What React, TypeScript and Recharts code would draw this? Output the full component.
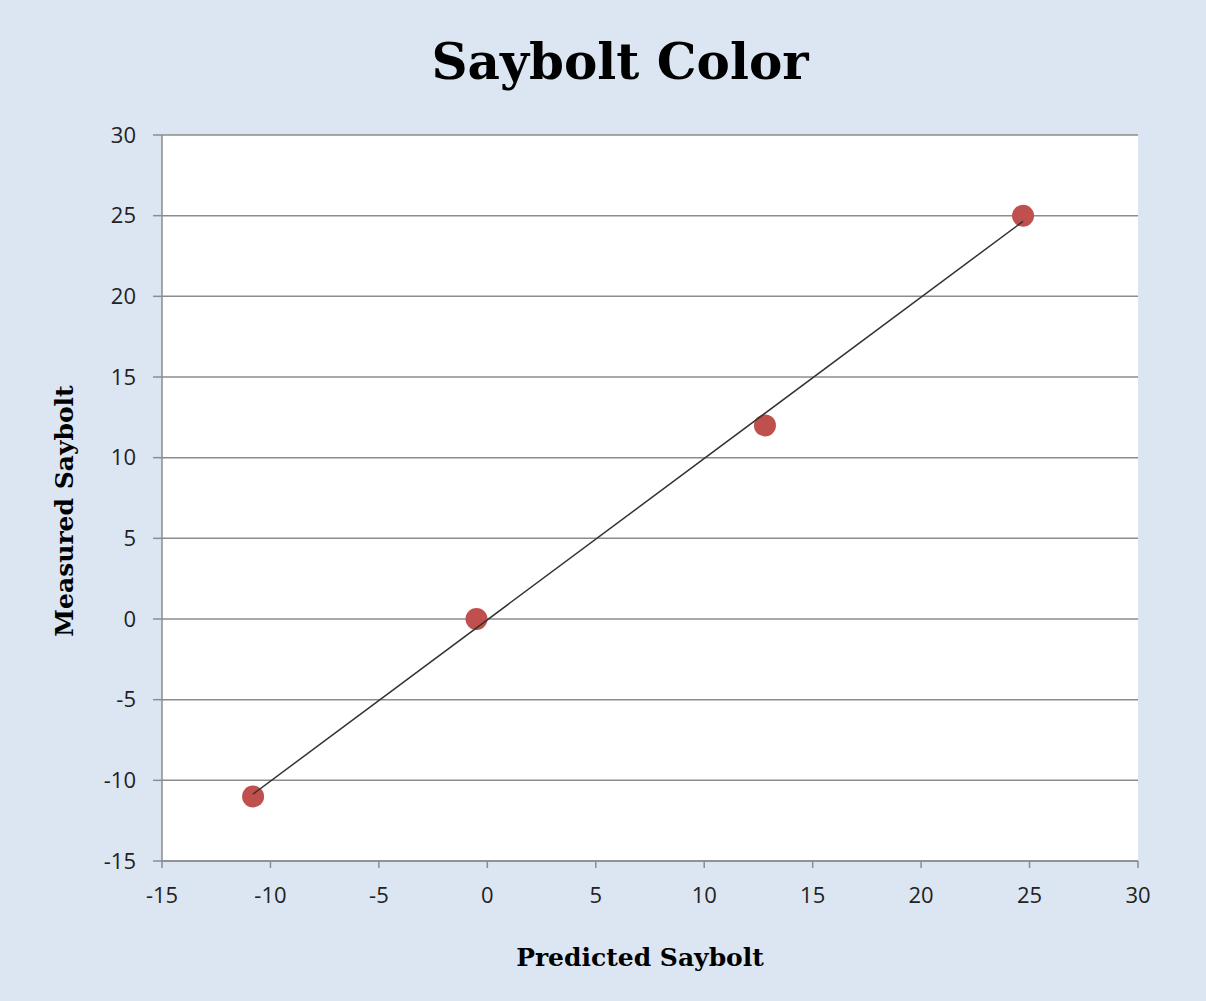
import React from 'react';
import {
  ScatterChart,
  Scatter,
  XAxis,
  YAxis,
  CartesianGrid,
  Label,
} from 'recharts';

// measured vs predicted points
const predicted = [-10.8, -0.5, 12.8, 24.7];
const measured = [-11, 0, 12, 25];

// linear trendline end points
const trendX = [-10.8, 24.7];
const trendY = [-10.85, 24.65];

const ticks = [-15, -10, -5, 0, 5, 10, 15, 20, 25, 30];

const BG = '#dce6f2';
const GRID = '#8c8c8c';
const SERIF = '"DejaVu Serif", serif';
const TICK_FONT = { fill: '#222', fontSize: 22, fontFamily: '"Open Sans", sans-serif' };
const AXIS_TITLE = { fontFamily: SERIF, fontWeight: 700, fontSize: 25, fill: '#000' };

const points = predicted.map((x, i) => ({ x, y: measured[i] }));
const trend = trendX.map((x, i) => ({ x, y: trendY[i] }));

export default function App() {
  return (
    <div style={{ position: 'absolute', left: 0, top: 0, width: 1206, height: 1001, background: BG }}>
      <div
        style={{
          position: 'absolute',
          left: 0,
          right: 0,
          top: 32,
          textAlign: 'center',
          fontFamily: SERIF,
          fontWeight: 700,
          fontSize: 50,
          color: '#000',
          paddingLeft: 34,
        }}
      >
        Saybolt Color
      </div>
      <ScatterChart
        width={1206}
        height={1001}
        margin={{ top: 135, right: 68, bottom: 100, left: 102 }}
        style={{ position: 'absolute', left: 0, top: 0 }}
      >
        <CartesianGrid horizontal vertical={false} fill="#fff" stroke={GRID} strokeWidth={1.5} />
        <XAxis
          type="number"
          dataKey="x"
          domain={[-15, 30]}
          ticks={ticks}
          height={40}
          tick={TICK_FONT}
          tickSize={7}
          axisLine={{ stroke: GRID, strokeWidth: 1.5 }}
          tickLine={{ stroke: GRID, strokeWidth: 1.5 }}
          tickMargin={19}
        >
          <Label
            content={({ viewBox }: any) => (
              <text
                x={viewBox.x + viewBox.width / 2 - 10}
                y={viewBox.y + 105}
                textAnchor="middle"
                style={AXIS_TITLE}
              >
                Predicted Saybolt
              </text>
            )}
          />
        </XAxis>
        <YAxis
          type="number"
          dataKey="y"
          domain={[-15, 30]}
          ticks={ticks}
          width={60}
          tick={TICK_FONT}
          tickSize={9}
          axisLine={{ stroke: GRID, strokeWidth: 1.5 }}
          tickLine={{ stroke: GRID, strokeWidth: 1.5 }}
          tickMargin={17}
        >
          <Label
            content={({ viewBox }: any) => {
              const cx = 73;
              const cy = viewBox.y + viewBox.height / 2 + 13;
              return (
                <text
                  x={cx}
                  y={cy}
                  textAnchor="middle"
                  transform={`rotate(-90 ${cx} ${cy})`}
                  style={AXIS_TITLE}
                >
                  Measured Saybolt
                </text>
              );
            }}
          />
        </YAxis>
        <Scatter
          data={points}
          isAnimationActive={false}
          shape={(p: any) => <circle cx={p.cx} cy={p.cy} r={11} fill="#c0504d" />}
        />
        <Scatter
          data={trend}
          isAnimationActive={false}
          line={{ stroke: '#333', strokeWidth: 1.5 }}
          shape={() => <g />}
        />
      </ScatterChart>
    </div>
  );
}
